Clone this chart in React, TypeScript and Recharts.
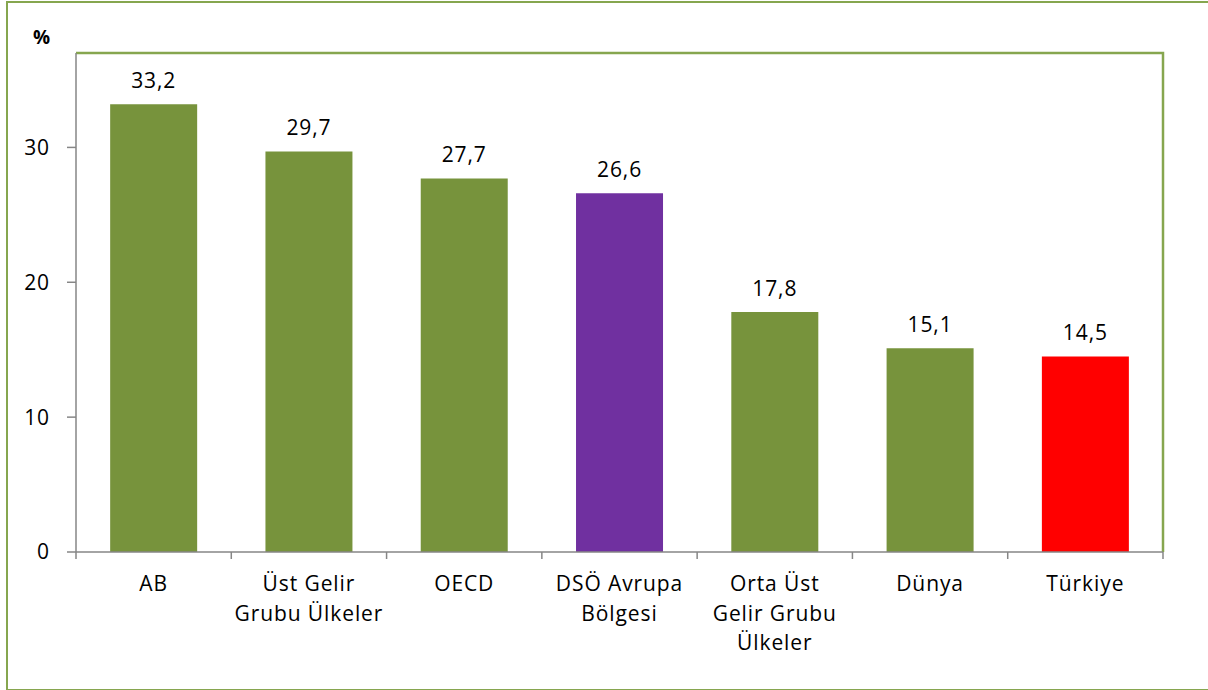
import React from 'react';
import { BarChart, Bar, XAxis, YAxis, Cell, LabelList, ReferenceArea } from 'recharts';

// categories (line breaks as in the original axis labels)
const categories = [
  'AB',
  'Üst Gelir\nGrubu Ülkeler',
  'OECD',
  'DSÖ Avrupa\nBölgesi',
  'Orta Üst\nGelir Grubu\nÜlkeler',
  'Dünya',
  'Türkiye',
];
const values = [33.2, 29.7, 27.7, 26.6, 17.8, 15.1, 14.5];
const yTicks = [0, 10, 20, 30];
const yMax = 37;

const data = categories.map((name, i) => ({ name, value: values[i] }));

const GREEN = '#77933c';
const FRAME = '#86a64f';
const AXIS = '#868686';
const FONT = '"Open Sans", "Noto Sans", sans-serif';
const FS = 21;
const SPACING = 0.9;

const colorFor = (name: string) => {
  if (name.startsWith('DSÖ')) return '#7030a0';
  if (name === 'Türkiye') return '#ff0000';
  return GREEN;
};

const W = 1208;
const H = 690;
const PLOT_LEFT = 76;
const PLOT_RIGHT = 1163;
const BAND = (PLOT_RIGHT - PLOT_LEFT) / categories.length;

function CategoryTick(props: any) {
  const { x, y, payload, index } = props;
  const lines = String(payload.value).split('\n');
  return (
    <g>
      <line x1={x - BAND / 2} x2={x - BAND / 2} y1={y} y2={y + 7} stroke={AXIS} strokeWidth={1.5} />
      {index === categories.length - 1 && (
        <line x1={x + BAND / 2} x2={x + BAND / 2} y1={y} y2={y + 7} stroke={AXIS} strokeWidth={1.5} />
      )}
      <text textAnchor="middle" fontFamily={FONT} fontSize={FS} letterSpacing={SPACING} fill="#000">
        {lines.map((l, i) => (
          <tspan key={i} x={x} y={y + 39 + i * 29.5}>
            {l}
          </tspan>
        ))}
      </text>
    </g>
  );
}

// only the top and right edges of the plot frame (left/bottom are the grey axes)
function FrameShape(props: any) {
  const { x, y, width, height } = props;
  return (
    <path
      d={`M${x},${y} H${x + width} V${y + height}`}
      fill="none"
      stroke={FRAME}
      strokeWidth={2.5}
    />
  );
}

export default function App() {
  return (
    <div style={{ position: 'absolute', left: 0, top: 0, width: W, height: H, background: '#fff', overflow: 'hidden' }}>
      <div
        style={{
          position: 'absolute',
          left: 6,
          top: 1,
          width: W - 8,
          height: 686,
          borderLeft: `2px solid ${FRAME}`,
          borderTop: `2px solid ${FRAME}`,
          borderBottom: `2px solid ${FRAME}`,
        }}
      />
      <div
        style={{
          position: 'absolute',
          left: 33,
          top: 24,
          fontFamily: FONT,
          fontWeight: 'bold',
          fontSize: 19,
          color: '#000',
        }}
      >
        %
      </div>
      <div style={{ position: 'absolute', left: 0, top: 0 }}>
        <BarChart
          width={W}
          height={H}
          data={data}
          margin={{ top: 53, right: W - PLOT_RIGHT, bottom: 38, left: 0 }}
          barCategoryGap="22%"
        >
          <XAxis
            dataKey="name"
            height={100}
            interval={0}
            tickLine={false}
            tickSize={0}
            tickMargin={0}
            axisLine={{ stroke: AXIS, strokeWidth: 1.5 }}
            tick={<CategoryTick />}
          />
          <YAxis
            width={PLOT_LEFT}
            domain={[0, yMax]}
            ticks={yTicks}
            tickSize={9}
            tickMargin={17}
            axisLine={{ stroke: AXIS, strokeWidth: 1.5 }}
            tickLine={{ stroke: AXIS, strokeWidth: 1.5 }}
            tick={{ fill: '#000', fontSize: FS, fontFamily: FONT, letterSpacing: SPACING }}
          />
          <ReferenceArea y1={0} y2={yMax} shape={<FrameShape />} ifOverflow="visible" />
          <Bar dataKey="value" isAnimationActive={false}>
            {data.map((d, i) => (
              <Cell key={`cell-${i}`} fill={colorFor(d.name)} />
            ))}
            <LabelList
              dataKey="value"
              position="top"
              offset={16}
              formatter={(v: any) => Number(v).toFixed(1).replace('.', ',')}
              style={{ fill: '#000', fontSize: FS, fontFamily: FONT, letterSpacing: SPACING }}
            />
          </Bar>
        </BarChart>
      </div>
    </div>
  );
}
